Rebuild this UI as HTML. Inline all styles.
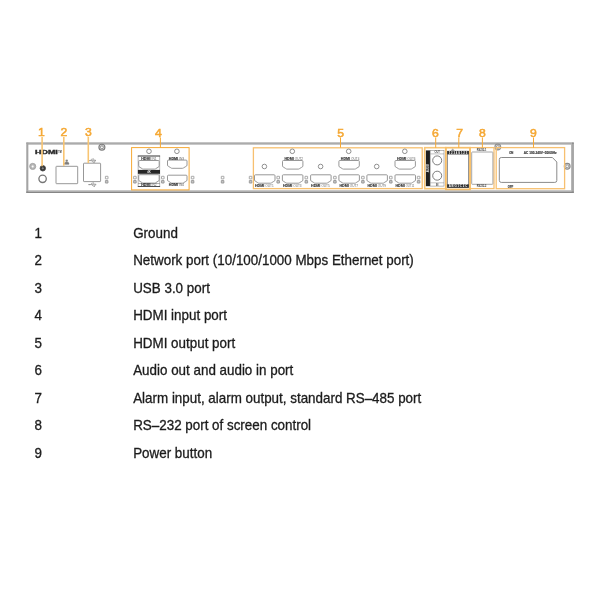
<!DOCTYPE html>
<html lang="en">
<head>
<meta charset="utf-8">
<title>Rear panel</title>
<style>
html,body{margin:0;padding:0;background:#fff;}
body{width:600px;height:600px;position:relative;overflow:hidden;font-family:"Liberation Sans",Arial,sans-serif;}
svg{position:absolute;left:0;top:0;filter:blur(0.45px);}
svg text{font-family:"Liberation Sans",Arial,sans-serif;}
svg text.num{font-family:"Liberation Sans",Arial,sans-serif;}
.row{position:absolute;left:0;width:600px;height:20px;line-height:20px;font-size:13.4px;color:#1c1c1c;white-space:nowrap;filter:blur(0.55px);transform:scaleY(1.035);transform-origin:0 14.64px;-webkit-text-stroke:0.3px #1c1c1c;}
.row .n{position:absolute;left:34.5px;}
.row .d{position:absolute;left:133.2px;}
</style>
</head>
<body>
<svg width="600" height="600" viewBox="0 0 600 600">
<rect x="26.4" y="142.7" width="547.2" height="50.2" rx="0.6" fill="#fff"/>
<path d="M26.3,143.2H573.7" stroke="#8a8a8a" stroke-width="1.2" fill="none"/>
<path d="M27.4,144.3H572.2" stroke="#b6b6b6" stroke-width="1.1" fill="none"/>
<path d="M27.3,142.6V192.9" stroke="#a4a4a4" stroke-width="2.1" fill="none"/>
<path d="M571.6,143.8V191.4" stroke="#b6b6b6" stroke-width="1.2" fill="none"/>
<path d="M573,142.6V192.9" stroke="#868686" stroke-width="1.4" fill="none"/>
<path d="M27.4,190.8H572.2" stroke="#b6b6b6" stroke-width="1.2" fill="none"/>
<path d="M26.3,192.2H573.7" stroke="#868686" stroke-width="1.4" fill="none"/>
<circle cx="101.90" cy="147.30" r="3.0" fill="#dcdcdc" stroke="#7c7c7c" stroke-width="1.1"/>
<circle cx="101.90" cy="147.30" r="1.5" fill="#f6f6f6" stroke="#7c7c7c" stroke-width="0.8"/>
<circle cx="497.80" cy="147.00" r="2.9" fill="#dcdcdc" stroke="#909090" stroke-width="1.1"/>
<circle cx="497.80" cy="147.00" r="1.45" fill="#f6f6f6" stroke="#909090" stroke-width="0.8"/>
<circle cx="567.20" cy="166.30" r="2.9" fill="#dcdcdc" stroke="#8a8a8a" stroke-width="1.1"/>
<circle cx="567.20" cy="166.30" r="1.45" fill="#f6f6f6" stroke="#8a8a8a" stroke-width="0.8"/>
<text x="35" y="154.1" font-size="5.7" font-weight="bold" fill="#2a2a2a" stroke="#2a2a2a" stroke-width="0.35" textLength="22.8" lengthAdjust="spacingAndGlyphs" style="letter-spacing:0">HDMI</text>
<text x="58.3" y="152.7" font-size="2.7" fill="#2a2a2a" font-weight="bold" textLength="3.3" lengthAdjust="spacingAndGlyphs">TM</text>
<circle cx="32.70" cy="166.40" r="3.1" fill="#b4b4b4" stroke="#9c9c9c" stroke-width="0.7"/>
<circle cx="32.70" cy="166.40" r="1.0" fill="#fff" stroke="#ddd" stroke-width="0.4"/>
<circle cx="42.80" cy="168.30" r="2.7" fill="#303030" stroke="#4a4a4a" stroke-width="0.9"/>
<path d="M41.5,168.3H44.1M42.8,167V169.6" stroke="#bbb" stroke-width="0.5"/>
<circle cx="42.60" cy="178.80" r="3.7" fill="#fff" stroke="#767676" stroke-width="1.3"/>
<rect x="56" y="166.3" width="21.7" height="17.4" rx="0.6" fill="#fff" stroke="#8c8c8c" stroke-width="0.9"/>
<path d="M65.9,159.9h1.6v1.3h-1.6zM64.5,164.3h1.3v-1.2h-1.3zM66.05,164.3h1.3v-1.2h-1.3zM67.6,164.3h1.3v-1.2h-1.3zM66.7,161.2v1.9M65.15,163.1v-0.9h3.1v0.9" fill="#999" stroke="#666" stroke-width="0.45"/>
<rect x="83.5" y="163.2" width="17.1" height="18.4" rx="0.6" fill="#fff" stroke="#8c8c8c" stroke-width="0.9"/>
<path d="M88.80,160.6H95.20M94.40,159.70L96.00,160.6L94.40,161.50M90.40,160.6L91.60,159.10H93.10M91.60,160.6L92.80,162.10H94.00" fill="none" stroke="#707070" stroke-width="0.55"/>
<circle cx="88.80" cy="160.6" r="0.6" fill="#707070"/><circle cx="93.40" cy="159.10" r="0.5" fill="#707070"/><rect x="93.80" y="161.70" width="0.9" height="0.9" fill="#707070"/>
<path d="M89.00,184.6H95.40M94.60,183.70L96.20,184.6L94.60,185.50M90.60,184.6L91.80,183.10H93.30M91.80,184.6L93.00,186.10H94.20" fill="none" stroke="#707070" stroke-width="0.55"/>
<circle cx="89.00" cy="184.6" r="0.6" fill="#707070"/><circle cx="93.60" cy="183.10" r="0.5" fill="#707070"/><rect x="94.00" y="185.70" width="0.9" height="0.9" fill="#707070"/>
<rect x="105.40" y="176.30" width="2.6" height="2.6" rx="0.2" fill="#fff" stroke="#858585" stroke-width="0.7"/>
<rect x="105.40" y="180.50" width="2.6" height="2.6" rx="0.2" fill="#c4c4c4" stroke="#858585" stroke-width="0.7"/>
<rect x="131.6" y="147.6" width="57.50" height="42.30" fill="none" stroke="#f5a834" stroke-width="1.0"/>
<circle cx="149.00" cy="151.30" r="2.3" fill="#fff" stroke="#838383" stroke-width="0.9"/>
<circle cx="176.90" cy="151.30" r="2.3" fill="#fff" stroke="#838383" stroke-width="0.9"/>
<rect x="138.1" y="156" width="21.7" height="30.5" fill="#fff" stroke="#8c8c8c" stroke-width="0.6"/>
<path d="M137.8,156H160.1M137.8,186.5H160.1" stroke="#333" stroke-width="0.8" fill="none"/>
<path d="M138.1,183.5H159.8" stroke="#666" stroke-width="0.5" fill="none"/>
<rect x="137.9" y="169.9" width="22.1" height="3.9" fill="#262626"/>
<text x="149" y="173" font-size="2.8" text-anchor="middle" fill="#e8e8e8" font-weight="bold">4K</text>
<path d="M139.60,160.50 H158.30 Q159.20,160.50 159.20,161.40 V165.90 Q159.20,166.90 158.00,167.30 L156.00,168.50 Q155.40,169.10 154.60,169.10 H143.30 Q142.50,169.10 141.90,168.50 L139.90,167.30 Q138.70,166.90 138.70,165.90 V161.40 Q138.70,160.50 139.60,160.50 Z" fill="#fff" stroke="#8a8a8a" stroke-width="0.9"/>
<path d="M139.60,174.70 H158.30 Q159.20,174.70 159.20,175.60 V179.90 Q159.20,180.90 158.00,181.30 L156.00,182.50 Q155.40,183.10 154.60,183.10 H143.30 Q142.50,183.10 141.90,182.50 L139.90,181.30 Q138.70,180.90 138.70,179.90 V175.60 Q138.70,174.70 139.60,174.70 Z" fill="#fff" stroke="#8a8a8a" stroke-width="0.9"/>
<text x="141.20" y="159.70" font-size="3.3" fill="#303030" stroke="#303030" stroke-width="0.1" font-weight="bold" textLength="9.3" lengthAdjust="spacingAndGlyphs">HDMI</text>
<text x="151.50" y="159.70" font-size="3.0" fill="#6a6a6a" textLength="5.10" lengthAdjust="spacingAndGlyphs">IN1</text>
<text x="141.20" y="186.20" font-size="3.3" fill="#303030" stroke="#303030" stroke-width="0.1" font-weight="bold" textLength="9.3" lengthAdjust="spacingAndGlyphs">HDMI</text>
<text x="151.50" y="186.20" font-size="3.0" fill="#6a6a6a" textLength="5.10" lengthAdjust="spacingAndGlyphs">IN2</text>
<path d="M168.40,160.10 H186.10 Q187.00,160.10 187.00,161.00 V165.10 Q187.00,166.10 185.80,166.50 L183.80,167.70 Q183.20,168.30 182.40,168.30 H172.10 Q171.30,168.30 170.70,167.70 L168.70,166.50 Q167.50,166.10 167.50,165.10 V161.00 Q167.50,160.10 168.40,160.10 Z" fill="#fff" stroke="#8c8c8c" stroke-width="0.9"/>
<path d="M168.40,175.20 H186.10 Q187.00,175.20 187.00,176.10 V180.00 Q187.00,181.00 185.80,181.40 L183.80,182.60 Q183.20,183.20 182.40,183.20 H172.10 Q171.30,183.20 170.70,182.60 L168.70,181.40 Q167.50,181.00 167.50,180.00 V176.10 Q167.50,175.20 168.40,175.20 Z" fill="#fff" stroke="#8c8c8c" stroke-width="0.9"/>
<text x="168.80" y="159.60" font-size="3.3" fill="#303030" stroke="#303030" stroke-width="0.1" font-weight="bold" textLength="9.3" lengthAdjust="spacingAndGlyphs">HDMI</text>
<text x="179.10" y="159.60" font-size="3.0" fill="#6a6a6a" textLength="5.10" lengthAdjust="spacingAndGlyphs">IN3</text>
<text x="168.80" y="186.10" font-size="3.3" fill="#303030" stroke="#303030" stroke-width="0.1" font-weight="bold" textLength="9.3" lengthAdjust="spacingAndGlyphs">HDMI</text>
<text x="179.10" y="186.10" font-size="3.0" fill="#6a6a6a" textLength="5.10" lengthAdjust="spacingAndGlyphs">IN4</text>
<rect x="133.60" y="176.30" width="2.6" height="2.6" rx="0.2" fill="#fff" stroke="#858585" stroke-width="0.7"/>
<rect x="133.60" y="180.50" width="2.6" height="2.6" rx="0.2" fill="#c4c4c4" stroke="#858585" stroke-width="0.7"/>
<rect x="161.50" y="176.30" width="2.6" height="2.6" rx="0.2" fill="#fff" stroke="#858585" stroke-width="0.7"/>
<rect x="161.50" y="180.50" width="2.6" height="2.6" rx="0.2" fill="#c4c4c4" stroke="#858585" stroke-width="0.7"/>
<rect x="191.30" y="176.30" width="2.6" height="2.6" rx="0.2" fill="#fff" stroke="#858585" stroke-width="0.7"/>
<rect x="191.30" y="180.50" width="2.6" height="2.6" rx="0.2" fill="#c4c4c4" stroke="#858585" stroke-width="0.7"/>
<rect x="221.30" y="176.30" width="2.6" height="2.6" rx="0.2" fill="#fff" stroke="#858585" stroke-width="0.7"/>
<rect x="221.30" y="180.50" width="2.6" height="2.6" rx="0.2" fill="#c4c4c4" stroke="#858585" stroke-width="0.7"/>
<rect x="249.30" y="176.30" width="2.6" height="2.6" rx="0.2" fill="#fff" stroke="#858585" stroke-width="0.7"/>
<rect x="249.30" y="180.50" width="2.6" height="2.6" rx="0.2" fill="#c4c4c4" stroke="#858585" stroke-width="0.7"/>
<rect x="253.4" y="147.8" width="168.80" height="40.80" fill="none" stroke="#f7c070" stroke-width="1.3"/>
<path d="M255.40,174.80 H274.10 Q275.00,174.80 275.00,175.70 V180.00 Q275.00,181.00 273.80,181.40 L271.80,182.60 Q271.20,183.20 270.40,183.20 H259.10 Q258.30,183.20 257.70,182.60 L255.70,181.40 Q254.50,181.00 254.50,180.00 V175.70 Q254.50,174.80 255.40,174.80 Z" fill="#fff" stroke="#8c8c8c" stroke-width="0.9"/>
<text x="255.00" y="187.00" font-size="3.3" fill="#303030" stroke="#303030" stroke-width="0.1" font-weight="bold" textLength="9.3" lengthAdjust="spacingAndGlyphs">HDMI</text>
<text x="265.30" y="187.00" font-size="3.0" fill="#6a6a6a" textLength="8.40" lengthAdjust="spacingAndGlyphs">OUT1</text>
<path d="M283.30,174.80 H302.00 Q302.90,174.80 302.90,175.70 V180.00 Q302.90,181.00 301.70,181.40 L299.70,182.60 Q299.10,183.20 298.30,183.20 H287.00 Q286.20,183.20 285.60,182.60 L283.60,181.40 Q282.40,181.00 282.40,180.00 V175.70 Q282.40,174.80 283.30,174.80 Z" fill="#fff" stroke="#8c8c8c" stroke-width="0.9"/>
<text x="282.90" y="187.00" font-size="3.3" fill="#303030" stroke="#303030" stroke-width="0.1" font-weight="bold" textLength="9.3" lengthAdjust="spacingAndGlyphs">HDMI</text>
<text x="293.20" y="187.00" font-size="3.0" fill="#6a6a6a" textLength="8.40" lengthAdjust="spacingAndGlyphs">OUT3</text>
<path d="M311.50,174.80 H330.20 Q331.10,174.80 331.10,175.70 V180.00 Q331.10,181.00 329.90,181.40 L327.90,182.60 Q327.30,183.20 326.50,183.20 H315.20 Q314.40,183.20 313.80,182.60 L311.80,181.40 Q310.60,181.00 310.60,180.00 V175.70 Q310.60,174.80 311.50,174.80 Z" fill="#fff" stroke="#8c8c8c" stroke-width="0.9"/>
<text x="311.10" y="187.00" font-size="3.3" fill="#303030" stroke="#303030" stroke-width="0.1" font-weight="bold" textLength="9.3" lengthAdjust="spacingAndGlyphs">HDMI</text>
<text x="321.40" y="187.00" font-size="3.0" fill="#6a6a6a" textLength="8.40" lengthAdjust="spacingAndGlyphs">OUT5</text>
<path d="M339.80,174.80 H358.50 Q359.40,174.80 359.40,175.70 V180.00 Q359.40,181.00 358.20,181.40 L356.20,182.60 Q355.60,183.20 354.80,183.20 H343.50 Q342.70,183.20 342.10,182.60 L340.10,181.40 Q338.90,181.00 338.90,180.00 V175.70 Q338.90,174.80 339.80,174.80 Z" fill="#fff" stroke="#8c8c8c" stroke-width="0.9"/>
<text x="339.40" y="187.00" font-size="3.3" fill="#303030" stroke="#303030" stroke-width="0.1" font-weight="bold" textLength="9.3" lengthAdjust="spacingAndGlyphs">HDMI</text>
<text x="349.70" y="187.00" font-size="3.0" fill="#6a6a6a" textLength="8.40" lengthAdjust="spacingAndGlyphs">OUT7</text>
<path d="M367.80,174.80 H386.50 Q387.40,174.80 387.40,175.70 V180.00 Q387.40,181.00 386.20,181.40 L384.20,182.60 Q383.60,183.20 382.80,183.20 H371.50 Q370.70,183.20 370.10,182.60 L368.10,181.40 Q366.90,181.00 366.90,180.00 V175.70 Q366.90,174.80 367.80,174.80 Z" fill="#fff" stroke="#8c8c8c" stroke-width="0.9"/>
<text x="367.40" y="187.00" font-size="3.3" fill="#303030" stroke="#303030" stroke-width="0.1" font-weight="bold" textLength="9.3" lengthAdjust="spacingAndGlyphs">HDMI</text>
<text x="377.70" y="187.00" font-size="3.0" fill="#6a6a6a" textLength="8.40" lengthAdjust="spacingAndGlyphs">OUT9</text>
<path d="M395.90,174.80 H414.60 Q415.50,174.80 415.50,175.70 V180.00 Q415.50,181.00 414.30,181.40 L412.30,182.60 Q411.70,183.20 410.90,183.20 H399.60 Q398.80,183.20 398.20,182.60 L396.20,181.40 Q395.00,181.00 395.00,180.00 V175.70 Q395.00,174.80 395.90,174.80 Z" fill="#fff" stroke="#8c8c8c" stroke-width="0.9"/>
<text x="395.50" y="187.00" font-size="3.3" fill="#303030" stroke="#303030" stroke-width="0.1" font-weight="bold" textLength="9.3" lengthAdjust="spacingAndGlyphs">HDMI</text>
<text x="405.80" y="187.00" font-size="3.0" fill="#6a6a6a" textLength="8.40" lengthAdjust="spacingAndGlyphs">OUT11</text>
<rect x="276.90" y="176.30" width="2.6" height="2.6" rx="0.2" fill="#fff" stroke="#858585" stroke-width="0.7"/>
<rect x="276.90" y="180.50" width="2.6" height="2.6" rx="0.2" fill="#c4c4c4" stroke="#858585" stroke-width="0.7"/>
<rect x="305.00" y="176.30" width="2.6" height="2.6" rx="0.2" fill="#fff" stroke="#858585" stroke-width="0.7"/>
<rect x="305.00" y="180.50" width="2.6" height="2.6" rx="0.2" fill="#c4c4c4" stroke="#858585" stroke-width="0.7"/>
<rect x="333.60" y="176.30" width="2.6" height="2.6" rx="0.2" fill="#fff" stroke="#858585" stroke-width="0.7"/>
<rect x="333.60" y="180.50" width="2.6" height="2.6" rx="0.2" fill="#c4c4c4" stroke="#858585" stroke-width="0.7"/>
<rect x="361.60" y="176.30" width="2.6" height="2.6" rx="0.2" fill="#fff" stroke="#858585" stroke-width="0.7"/>
<rect x="361.60" y="180.50" width="2.6" height="2.6" rx="0.2" fill="#c4c4c4" stroke="#858585" stroke-width="0.7"/>
<rect x="389.50" y="176.30" width="2.6" height="2.6" rx="0.2" fill="#fff" stroke="#858585" stroke-width="0.7"/>
<rect x="389.50" y="180.50" width="2.6" height="2.6" rx="0.2" fill="#c4c4c4" stroke="#858585" stroke-width="0.7"/>
<rect x="417.30" y="176.30" width="2.6" height="2.6" rx="0.2" fill="#fff" stroke="#858585" stroke-width="0.7"/>
<rect x="417.30" y="180.50" width="2.6" height="2.6" rx="0.2" fill="#c4c4c4" stroke="#858585" stroke-width="0.7"/>
<path d="M283.40,160.50 H302.00 Q302.90,160.50 302.90,161.40 V165.90 Q302.90,166.90 301.70,167.30 L299.70,168.50 Q299.10,169.10 298.30,169.10 H287.10 Q286.30,169.10 285.70,168.50 L283.70,167.30 Q282.50,166.90 282.50,165.90 V161.40 Q282.50,160.50 283.40,160.50 Z" fill="#fff" stroke="#8c8c8c" stroke-width="0.9"/>
<text x="284.40" y="159.90" font-size="3.3" fill="#303030" stroke="#303030" stroke-width="0.1" font-weight="bold" textLength="9.3" lengthAdjust="spacingAndGlyphs">HDMI</text>
<text x="294.70" y="159.90" font-size="3.0" fill="#6a6a6a" textLength="8.40" lengthAdjust="spacingAndGlyphs">OUT2</text>
<circle cx="292.30" cy="151.30" r="2.3" fill="#fff" stroke="#838383" stroke-width="0.9"/>
<path d="M339.80,160.50 H358.40 Q359.30,160.50 359.30,161.40 V165.90 Q359.30,166.90 358.10,167.30 L356.10,168.50 Q355.50,169.10 354.70,169.10 H343.50 Q342.70,169.10 342.10,168.50 L340.10,167.30 Q338.90,166.90 338.90,165.90 V161.40 Q338.90,160.50 339.80,160.50 Z" fill="#fff" stroke="#8c8c8c" stroke-width="0.9"/>
<text x="340.80" y="159.90" font-size="3.3" fill="#303030" stroke="#303030" stroke-width="0.1" font-weight="bold" textLength="9.3" lengthAdjust="spacingAndGlyphs">HDMI</text>
<text x="351.10" y="159.90" font-size="3.0" fill="#6a6a6a" textLength="8.40" lengthAdjust="spacingAndGlyphs">OUT4</text>
<circle cx="348.70" cy="151.30" r="2.3" fill="#fff" stroke="#838383" stroke-width="0.9"/>
<path d="M395.90,160.50 H414.50 Q415.40,160.50 415.40,161.40 V165.90 Q415.40,166.90 414.20,167.30 L412.20,168.50 Q411.60,169.10 410.80,169.10 H399.60 Q398.80,169.10 398.20,168.50 L396.20,167.30 Q395.00,166.90 395.00,165.90 V161.40 Q395.00,160.50 395.90,160.50 Z" fill="#fff" stroke="#8c8c8c" stroke-width="0.9"/>
<text x="396.90" y="159.90" font-size="3.3" fill="#303030" stroke="#303030" stroke-width="0.1" font-weight="bold" textLength="9.3" lengthAdjust="spacingAndGlyphs">HDMI</text>
<text x="407.20" y="159.90" font-size="3.0" fill="#6a6a6a" textLength="8.40" lengthAdjust="spacingAndGlyphs">OUT6</text>
<circle cx="404.80" cy="151.30" r="2.3" fill="#fff" stroke="#838383" stroke-width="0.9"/>
<circle cx="264.40" cy="166.50" r="2.3" fill="#fff" stroke="#838383" stroke-width="0.9"/>
<circle cx="320.60" cy="166.50" r="2.3" fill="#fff" stroke="#838383" stroke-width="0.9"/>
<circle cx="376.70" cy="166.50" r="2.3" fill="#fff" stroke="#838383" stroke-width="0.9"/>
<rect x="424.7" y="147.7" width="21.00" height="41.00" fill="none" stroke="#f8c677" stroke-width="1.6"/>
<rect x="425.9" y="150.4" width="4.2" height="35.8" fill="#1e1e1e"/>
<rect x="430.2" y="150.5" width="13.8" height="35.6" fill="#fff" stroke="#8a8a8a" stroke-width="0.6"/>
<line x1="430.2" y1="153.9" x2="444" y2="153.9" stroke="#858585" stroke-width="0.5"/>
<line x1="430.2" y1="182.8" x2="444" y2="182.8" stroke="#858585" stroke-width="0.5"/>
<text x="437.2" y="153.4" font-size="2.6" font-weight="bold" text-anchor="middle" fill="#555">OUT</text>
<text x="437.2" y="185.5" font-size="2.6" font-weight="bold" text-anchor="middle" fill="#444">IN</text>
<text transform="translate(428.9,168.2) rotate(-90)" font-size="2.6" font-weight="bold" text-anchor="middle" fill="#eee">AUDIO</text>
<circle cx="437.20" cy="160.40" r="4.5" fill="#fff" stroke="#6e6e6e" stroke-width="0.9"/>
<circle cx="437.20" cy="175.70" r="4.5" fill="#fff" stroke="#6e6e6e" stroke-width="0.9"/>
<rect x="447.6" y="151.2" width="20.8" height="36.4" fill="#fff" stroke="#7a7a7a" stroke-width="0.8"/>
<rect x="447.2" y="151" width="21.6" height="3.4" fill="#2c2c2c"/>
<rect x="447.2" y="184.3" width="21.6" height="3.4" fill="#2c2c2c"/>
<text x="458" y="153.8" font-size="2.8" font-weight="bold" text-anchor="middle" fill="#fff" textLength="18.5" lengthAdjust="spacingAndGlyphs">1 2 3 4 G 1 2 3</text>
<text x="458" y="187.0" font-size="2.8" font-weight="bold" text-anchor="middle" fill="#fff" textLength="18.5" lengthAdjust="spacingAndGlyphs">A B G 1 C 2 C</text>
<path d="M451,150.6h3.4M451.6,149.8h2.2M452.2,149h1" stroke="#555" stroke-width="0.5" fill="none"/>
<rect x="469.7" y="147.6" width="24.30" height="41.00" fill="none" stroke="#f7c070" stroke-width="1.3"/>
<rect x="471.7" y="152" width="21.2" height="32.3" rx="0.6" fill="#fff" stroke="#9c9c9c" stroke-width="0.9"/>
<text x="481.6" y="151.3" font-size="2.7" text-anchor="middle" fill="#333" font-weight="bold" textLength="9.6" lengthAdjust="spacingAndGlyphs">RS232-1</text>
<text x="481.6" y="187.3" font-size="2.7" text-anchor="middle" fill="#333" font-weight="bold" textLength="9.6" lengthAdjust="spacingAndGlyphs">RS232-2</text>
<rect x="496.2" y="147.6" width="68.40" height="41.10" fill="none" stroke="#f7c070" stroke-width="1.3"/>
<path d="M501.3,157.5 H552.4 L556.8,162 V180.5 Q556.8,182.4 554.8,182.4 H501.3 Q499.3,182.4 499.3,180.4 V159.5 Q499.3,157.5 501.3,157.5 Z" fill="#fff" stroke="#8a8a8a" stroke-width="1"/>
<text x="511.3" y="153.9" font-size="2.8" text-anchor="middle" fill="#333" stroke="#333" stroke-width="0.12" font-weight="bold">ON</text>
<text x="510.5" y="187.9" font-size="2.8" text-anchor="middle" fill="#333" stroke="#333" stroke-width="0.12" font-weight="bold">OFF</text>
<text x="523.8" y="153.9" font-size="2.8" fill="#333" stroke="#333" stroke-width="0.12" font-weight="bold" textLength="32.8" lengthAdjust="spacingAndGlyphs">AC 100-240V~50/60Hz</text>
<rect x="445.9" y="147.7" width="24.20" height="41.70" fill="none" stroke="#f7bf69" stroke-width="1.7"/>
<text transform="translate(41.50,135.9) scale(1.04,1)" font-size="11.7" text-anchor="middle" fill="#f5a834" stroke="#f5a834" stroke-width="0.55" class="num">1</text>
<line x1="42.10" y1="136.9" x2="42.10" y2="166.3" stroke="#f8c573" stroke-width="1.6"/>
<text transform="translate(63.95,135.9) scale(1.04,1)" font-size="11.7" text-anchor="middle" fill="#f5a834" stroke="#f5a834" stroke-width="0.55" class="num">2</text>
<line x1="63.80" y1="136.9" x2="63.80" y2="165.8" stroke="#f8c573" stroke-width="1.6"/>
<text transform="translate(88.35,135.9) scale(1.04,1)" font-size="11.7" text-anchor="middle" fill="#f5a834" stroke="#f5a834" stroke-width="0.55" class="num">3</text>
<line x1="88.30" y1="136.9" x2="88.30" y2="163" stroke="#f8c573" stroke-width="1.6"/>
<text transform="translate(158.40,137.2) scale(1.04,1)" font-size="11.7" text-anchor="middle" fill="#f5a834" stroke="#f5a834" stroke-width="0.55" class="num">4</text>
<line x1="160.40" y1="137.5" x2="160.40" y2="147.6" stroke="#f5a834" stroke-width="1.0"/>
<text transform="translate(340.60,137.2) scale(1.04,1)" font-size="11.7" text-anchor="middle" fill="#f5a834" stroke="#f5a834" stroke-width="0.55" class="num">5</text>
<line x1="340.50" y1="137.5" x2="340.50" y2="147.6" stroke="#f5a834" stroke-width="1.0"/>
<text transform="translate(435.40,137.2) scale(1.04,1)" font-size="11.7" text-anchor="middle" fill="#f5a834" stroke="#f5a834" stroke-width="0.55" class="num">6</text>
<line x1="435.70" y1="137.5" x2="435.70" y2="147.6" stroke="#f5a834" stroke-width="1.0"/>
<text transform="translate(459.60,137.2) scale(1.04,1)" font-size="11.7" text-anchor="middle" fill="#f5a834" stroke="#f5a834" stroke-width="0.55" class="num">7</text>
<line x1="458.80" y1="137.5" x2="458.80" y2="147.6" stroke="#f5a834" stroke-width="1.0"/>
<text transform="translate(482.40,137.2) scale(1.04,1)" font-size="11.7" text-anchor="middle" fill="#f5a834" stroke="#f5a834" stroke-width="0.55" class="num">8</text>
<line x1="482.40" y1="137.5" x2="482.40" y2="147.6" stroke="#f5a834" stroke-width="1.0"/>
<text transform="translate(533.50,137.2) scale(1.04,1)" font-size="11.7" text-anchor="middle" fill="#f5a834" stroke="#f5a834" stroke-width="0.55" class="num">9</text>
<line x1="533.50" y1="137.5" x2="533.50" y2="147.6" stroke="#f5a834" stroke-width="1.0"/>
</svg>
<div class="row" style="top:223.66px"><span class="n">1</span><span class="d">Ground</span></div>
<div class="row" style="top:251.19px"><span class="n">2</span><span class="d">Network port (10/100/1000 Mbps Ethernet port)</span></div>
<div class="row" style="top:278.72px"><span class="n">3</span><span class="d">USB 3.0 port</span></div>
<div class="row" style="top:306.25px"><span class="n">4</span><span class="d">HDMI input port</span></div>
<div class="row" style="top:333.78px"><span class="n">5</span><span class="d">HDMI output port</span></div>
<div class="row" style="top:361.31px"><span class="n">6</span><span class="d">Audio out and audio in port</span></div>
<div class="row" style="top:388.84px"><span class="n">7</span><span class="d">Alarm input, alarm output, standard RS–485 port</span></div>
<div class="row" style="top:416.37px"><span class="n">8</span><span class="d">RS–232 port of screen control</span></div>
<div class="row" style="top:443.90px"><span class="n">9</span><span class="d">Power button</span></div>
</body>
</html>
